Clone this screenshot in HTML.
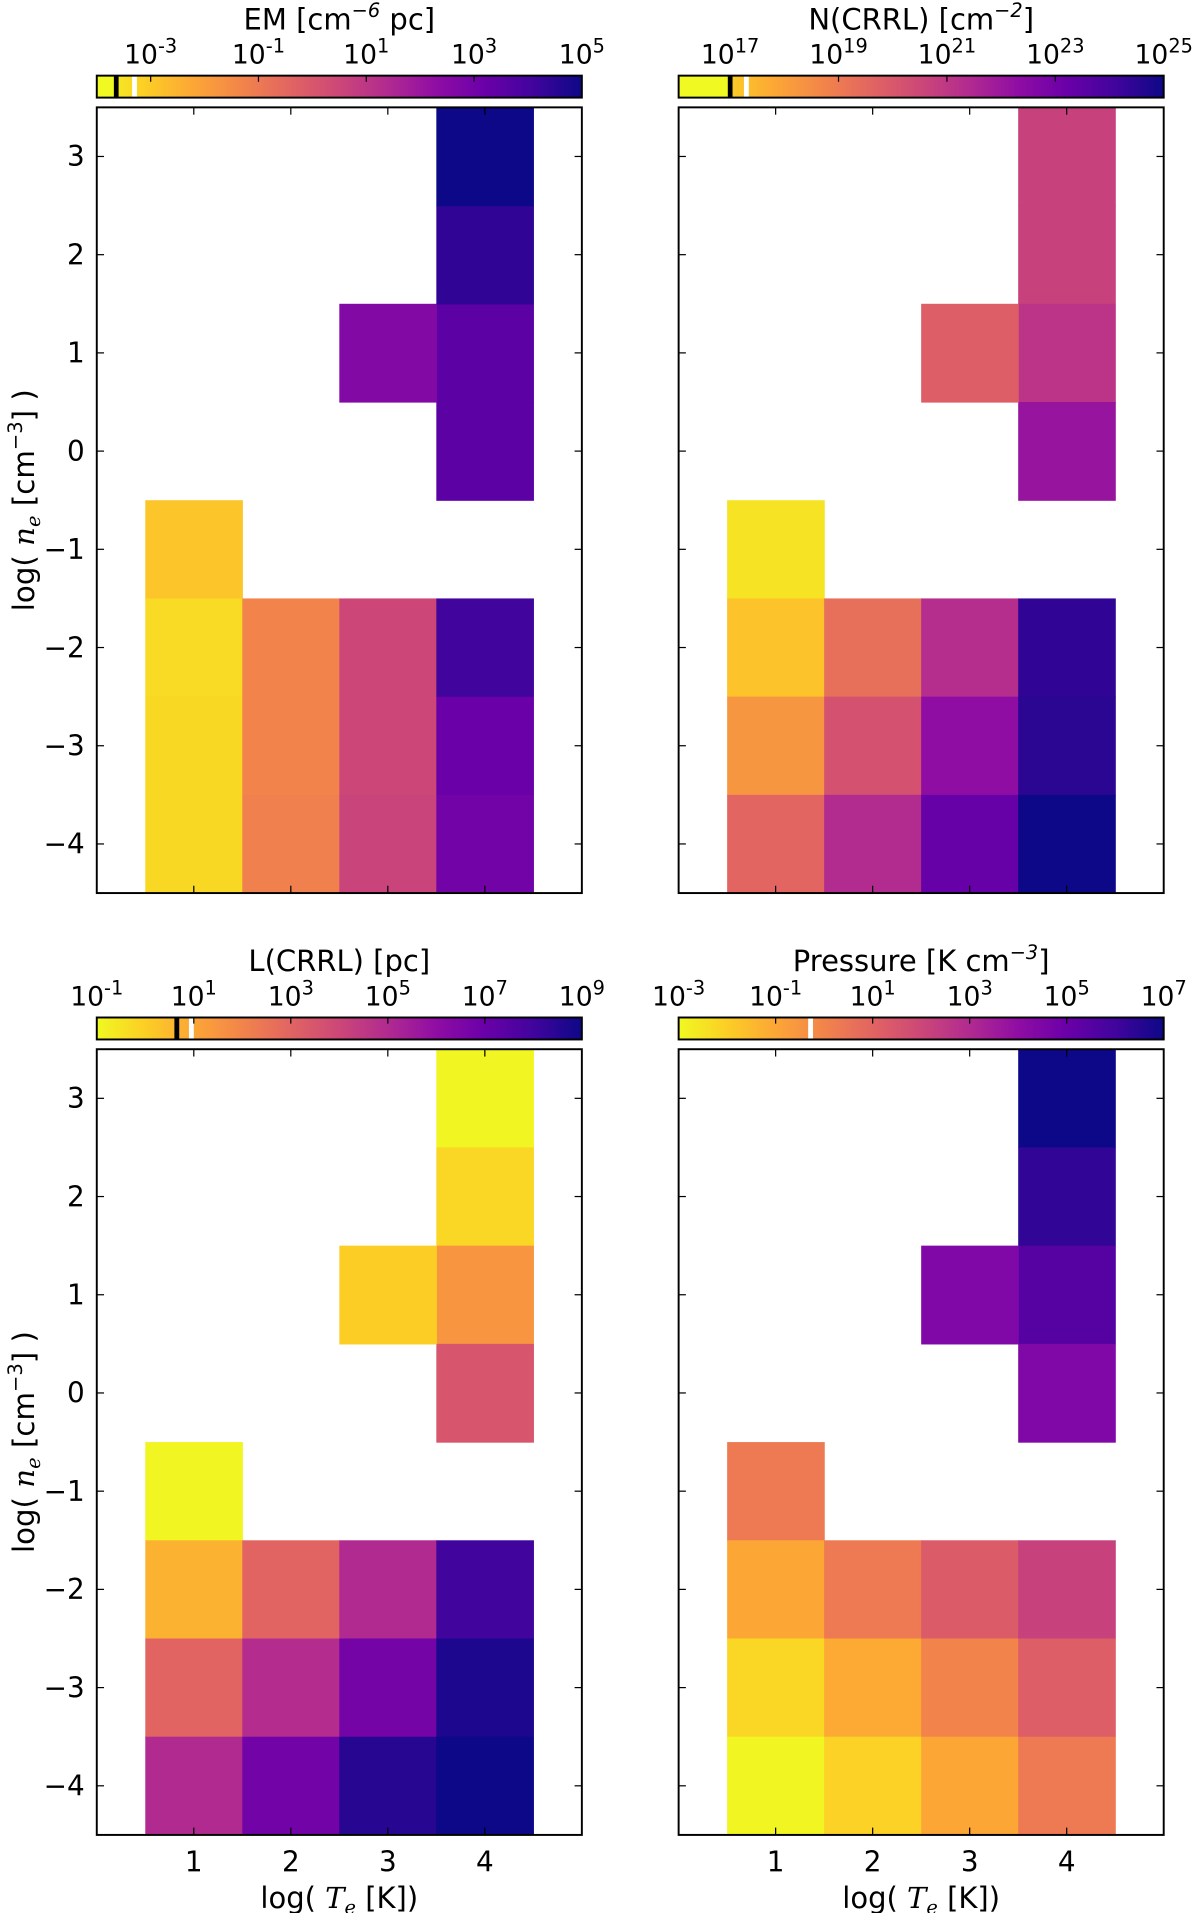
<!DOCTYPE html>
<html><head><meta charset="utf-8"><style>
html,body{margin:0;padding:0;background:#fff;}
svg{display:block;}
text{font-family:"DejaVu Sans","Liberation Sans",sans-serif;fill:#000;}
</style></head><body>
<svg id="fig" width="1200" height="1913" viewBox="0 0 992 1568" preserveAspectRatio="none" xmlns="http://www.w3.org/2000/svg"></svg>
<script>
// Data: log10 values per cell, cells at (logTe, logNe)
const emCells = [[1,-1,-2.9],[1,-2,-3.35],[1,-3,-3.3],[1,-4,-3.3],[2,-2,-1.3],[2,-3,-1.3],[2,-4,-1.2],[3,-2,0.5],[3,-3,0.5],[3,-4,0.6],[4,-2,4.1],[4,-3,3.2],[4,-4,3.0],[4,0,3.5],[4,1,3.5],[3,1,2.6],[4,2,4.4],[4,3,5.0]];
const ncrrlCells = [[4,3,20.7],[4,2,20.7],[4,1,21.1],[4,0,22.1],[3,1,19.8],[1,-1,16.5],[1,-2,17.2],[1,-3,18.25],[1,-4,19.6],[2,-2,19.3],[2,-3,20.2],[2,-4,21.4],[3,-2,21.3],[3,-3,22.3],[3,-4,23.3],[4,-2,24.4],[4,-3,24.5],[4,-4,25]];
const lcrrlCells = [[4,3,-0.9],[4,2,-0.2],[4,1,1.5],[4,0,3.5],[3,1,0],[1,-1,-0.9],[1,-2,0.7],[1,-3,3],[1,-4,5],[2,-2,3],[2,-3,4.9],[2,-4,6.8],[3,-2,5],[3,-3,6.7],[3,-4,8.5],[4,-2,8.0],[4,-3,8.7],[4,-4,9]];
const pressCells = [[4,3,7],[4,2,6.3],[4,1,5.5],[4,0,4.4],[3,1,4.4],[1,-1,0.3],[1,-2,-1],[1,-3,-2.2],[1,-4,-2.9],[2,-2,0.3],[2,-3,-1.1],[2,-4,-2.1],[3,-2,1.3],[3,-3,0],[3,-4,-1],[4,-2,2.2],[4,-3,1.2],[4,-4,0.3]];
const emTicks = [-3,-1,1,3,5];
const ncrrlTicks = [17,19,21,23,25];
const lcrrlTicks = [-1,1,3,5,7,9];
const pressTicks = [-3,-1,1,3,5,7];
const xTicks = [1,2,3,4];
const yTicks = [-4,-3,-2,-1,0,1,2,3];

const plasma = ["#0d0887","#41049d","#6a00a8","#8f0da4","#b12a90","#cc4778","#e16462","#f2844b","#fca636","#fcce25","#f0f921"];
function hex(c){return [1,3,5].map(i=>parseInt(c.substr(i,2),16));}
function cmap(t){t=Math.max(0,Math.min(1,t));const p=t*10,i=Math.min(9,Math.floor(p)),f=p-i;const a=hex(plasma[i]),b=hex(plasma[i+1]);return "rgb("+a.map((v,k)=>Math.round(v+(b[k]-v)*f)).join(",")+")";}

const NS="http://www.w3.org/2000/svg";
const svg=document.getElementById("fig");
function el(tag,attrs,parent){const e=document.createElementNS(NS,tag);for(const k in attrs)e.setAttribute(k,attrs[k]);(parent||svg).appendChild(e);return e;}
const defs=el("defs",{});
const lg=el("linearGradient",{id:"cb",x1:"0",x2:"1",y1:"0",y2:"0"},defs);
for(let i=0;i<=10;i++){el("stop",{offset:(i/10),"stop-color":plasma[10-i]},lg);}

const panels=[
 {name:"em",cells:emCells,ticks:emTicks,min:-4,max:5,x0:80,y0:88,title:["EM [cm","−6"," pc]"],lines:[[-3.64,"#000"],[-3.3,"#fff"]]},
 {name:"ncrrl",cells:ncrrlCells,ticks:ncrrlTicks,min:16.05,max:25,x0:561,y0:88,title:["N(CRRL) [cm","−2","]"],lines:[[17.0,"#000"],[17.3,"#fff"]]},
 {name:"lcrrl",cells:lcrrlCells,ticks:lcrrlTicks,min:-1,max:9,x0:80,y0:860,title:["L(CRRL) [pc]","",""],lines:[[0.65,"#000"],[0.95,"#fff"]]},
 {name:"pressure",cells:pressCells,ticks:pressTicks,min:-3,max:7,x0:561,y0:860,title:["Pressure [K cm","−3","]"],lines:[[-0.28,"#fff"]]}
];
const W=401,H=644;
panels.forEach((P,pi)=>{
  const g=el("g",{});
  
  
  const sx=v=>P.x0+(v/5)*W;
  const sy=v=>P.y0+((3.5-v)/8)*H;
  const cbx=v=>P.x0+(v-P.min)/(P.max-P.min)*W;
  const tcol=v=>cmap(1-(v-P.min)/(P.max-P.min));
  P.cells.forEach(c=>{
    const r=el("rect",{x:sx(c[0]-0.5),y:sy(c[1]+0.5),width:sx(c[0]+0.5)-sx(c[0]-0.5)+0.5,height:sy(c[1]-0.5)-sy(c[1]+0.5)+0.5,fill:tcol(c[2])},g);
    
    
  });
  const fr=el("rect",{x:P.x0,y:P.y0,width:W,height:H,fill:"none",stroke:"#000","stroke-width":1.6},g);
  
  
  xTicks.forEach(v=>{
    el("line",{x1:sx(v),x2:sx(v),y1:P.y0+H,y2:P.y0+H-6,stroke:"#000","stroke-width":1},g);
    el("line",{x1:sx(v),x2:sx(v),y1:P.y0,y2:P.y0+6,stroke:"#000","stroke-width":1},g);
    if(pi>=2){const t=el("text",{x:sx(v),y:P.y0+H+30,"text-anchor":"middle","font-size":23},g);t.textContent=v;
      
      }
  });
  yTicks.forEach(v=>{
    el("line",{x1:P.x0,x2:P.x0+6,y1:sy(v),y2:sy(v),stroke:"#000","stroke-width":1},g);
    el("line",{x1:P.x0+W,x2:P.x0+W-6,y1:sy(v),y2:sy(v),stroke:"#000","stroke-width":1},g);
    if(pi%2==0){const t=el("text",{x:P.x0-10,y:sy(v)+8,"text-anchor":"end","font-size":23},g);t.textContent=(v<0?"−"+(-v):v);
      
      }
  });
  const cy=P.y0-26,ch=18;
  const cb=el("rect",{x:P.x0,y:cy,width:W,height:ch,fill:"url(#cb)"},g);
  
  
  P.lines.forEach(l=>{el("rect",{x:cbx(l[0])-2,y:cy,width:4,height:ch,fill:l[1]},g);});
  if(pi<2){el("rect",{x:P.x0,y:cy,width:cbx(P.lines[0][0])-P.x0-2,height:ch,fill:"#f0f921"},g);}
  el("rect",{x:P.x0,y:cy,width:W,height:ch,fill:"none",stroke:"#000","stroke-width":1.6},g);
  P.ticks.forEach(v=>{
    const x=cbx(v);
    el("line",{x1:x,x2:x,y1:cy,y2:cy+5,stroke:"#000","stroke-width":1},g);
    const t=el("text",{x:x,y:cy-10,"text-anchor":"middle","font-size":22},g);
    
    
    t.appendChild(document.createTextNode("10"));
    const s=el("tspan",{dy:-9,"font-size":16},t);s.textContent=(v<0?"-"+(-v):v);
  });
  const tt=el("text",{x:P.x0+W/2,y:cy-38,"text-anchor":"middle","font-size":24},g);
  
  
  tt.appendChild(document.createTextNode(P.title[0]));
  if(P.title[1]){const s=el("tspan",{dy:-10,"font-size":16,"font-style":"italic"},tt);s.textContent=P.title[1];
    const s2=el("tspan",{dy:10},tt);s2.textContent=P.title[2];}
  if(pi%2==0){
    const yl=el("text",{x:0,y:0,"text-anchor":"middle","font-size":24,transform:"translate(28,"+(P.y0+H/2)+") rotate(-90)"},g);
    
    
    yl.appendChild(document.createTextNode("log( "));
    const a=el("tspan",{"font-style":"italic","font-family":"DejaVu Serif, serif"},yl);a.textContent="n";
    const b=el("tspan",{dy:5,"font-size":16,"font-style":"italic","font-family":"DejaVu Serif, serif"},yl);b.textContent="e";
    const c=el("tspan",{dy:-5},yl);c.textContent=" [cm";
    const d=el("tspan",{dy:-10,"font-size":16},yl);d.textContent="−3";
    const e=el("tspan",{dy:10},yl);e.textContent="] )";
  }
  if(pi>=2){
    const xl=el("text",{x:P.x0+W/2,y:P.y0+H+60,"text-anchor":"middle","font-size":24},g);
    
    
    xl.appendChild(document.createTextNode("log( "));
    const a=el("tspan",{"font-style":"italic","font-family":"DejaVu Serif, serif"},xl);a.textContent="T";
    const b=el("tspan",{dy:5,"font-size":16,"font-style":"italic","font-family":"DejaVu Serif, serif"},xl);b.textContent="e";
    const c=el("tspan",{dy:-5},xl);c.textContent=" [K])";
  }
});
</script>
</body></html>
